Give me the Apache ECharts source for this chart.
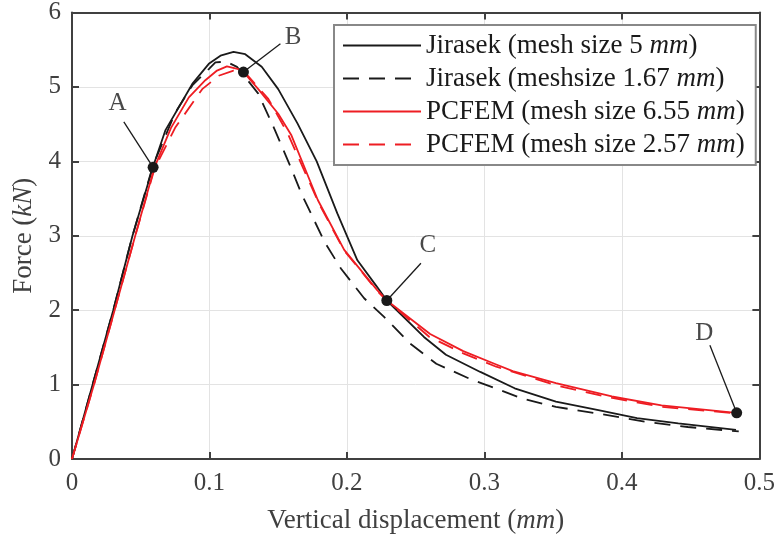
<!DOCTYPE html>
<html>
<head>
<meta charset="utf-8">
<script src="https://cdn.jsdelivr.net/npm/echarts@6/dist/echarts.min.js"></script>
<style>
html, body { margin: 0; padding: 0; background: #fff; }
#main { width: 778px; height: 542px; }
</style>
</head>
<body>
<div id="main"></div>
<script>
// 曲线数据: [竖向位移 mm, 力 kN]
const jirasek5 = [[0,0],[0.015,1.0],[0.030,2.0],[0.044,3.0],[0.059,3.93],[0.068,4.42],[0.0875,5.04],[0.0995,5.31],[0.108,5.42],[0.1175,5.47],[0.126,5.44],[0.138,5.27],[0.150,4.97],[0.164,4.51],[0.178,4.0],[0.193,3.30],[0.2076,2.67],[0.222,2.31],[0.229,2.13],[0.256,1.64],[0.272,1.40],[0.297,1.17],[0.322,0.95],[0.352,0.77],[0.382,0.66],[0.411,0.55],[0.441,0.48],[0.483,0.39]];
const jirasek167 = [[0,0],[0.015,1.0],[0.030,2.0],[0.044,3.0],[0.059,3.95],[0.075,4.65],[0.0875,5.02],[0.0995,5.24],[0.1043,5.33],[0.112,5.34],[0.12,5.27],[0.1355,4.91],[0.1476,4.42],[0.1596,3.90],[0.1668,3.57],[0.1836,2.92],[0.1956,2.56],[0.2125,2.16],[0.227,1.91],[0.246,1.55],[0.265,1.28],[0.289,1.08],[0.308,0.95],[0.328,0.81],[0.352,0.70],[0.383,0.61],[0.417,0.50],[0.448,0.43],[0.485,0.37]];
const pcfem655 = [[0,0],[0.016,1.0],[0.031,2.0],[0.046,3.0],[0.060,3.92],[0.072,4.45],[0.085,4.86],[0.097,5.09],[0.1055,5.22],[0.1127,5.275],[0.121,5.24],[0.1247,5.20],[0.1355,4.97],[0.150,4.64],[0.1596,4.35],[0.1788,3.48],[0.198,2.81],[0.222,2.27],[0.229,2.13],[0.2605,1.68],[0.2846,1.45],[0.3086,1.27],[0.3206,1.18],[0.352,1.02],[0.3927,0.84],[0.4288,0.72],[0.483,0.62]];
const pcfem257 = [[0,0],[0.016,1.0],[0.031,2.0],[0.046,3.0],[0.060,3.90],[0.075,4.45],[0.0947,4.97],[0.1067,5.15],[0.1175,5.22],[0.127,5.17],[0.1428,4.84],[0.157,4.37],[0.18,3.42],[0.198,2.80],[0.222,2.26],[0.229,2.13],[0.26,1.64],[0.2846,1.42],[0.3086,1.24],[0.352,0.99],[0.393,0.82],[0.429,0.70],[0.485,0.61]];

const seriesNames = ['Jirasek (mesh size 5 mm)', 'Jirasek (meshsize 1.67 mm)', 'PCFEM (mesh size 6.55 mm)', 'PCFEM (mesh size 2.57 mm)'];

// 标注点 A-D
const markNames = ['A', 'B', 'C', 'D'];
const markPoints = [[0.059,3.92],[0.1247,5.2],[0.229,2.13],[0.4835,0.62]];
const labelPoints = [[0.0332,4.78],[0.1608,5.66],[0.2588,2.87],[0.46,1.69]];
const leaderStarts = [[0.0377,4.53],[0.1516,5.58],[0.2538,2.63],[0.464,1.53]];

// 坐标轴刻度
const xRange = [0, 0.5, 0.1];
const yRange = [0, 6, 1];

const FONT = 'Liberation Serif';
const AXIS_COLOR = '#404040';
const BLACK = '#1a1a1a';
const RED = '#ee1d23';

const chart = echarts.init(document.getElementById('main'));

const baseAxis = {
    axisLine: { show: true, onZero: false, lineStyle: { color: AXIS_COLOR, width: 2 } },
    axisTick: { show: true, inside: true, length: 7, lineStyle: { color: AXIS_COLOR, width: 2 } },
    splitLine: { show: false }
};

const lineSeries = (name, data, color, dashed) => ({
    name: name,
    type: 'line',
    data: data,
    symbol: 'none',
    smooth: false,
    lineStyle: { color: color, width: 1.8, type: dashed ? [16, 10] : 'solid' },
    itemStyle: { color: color },
    z: 3
});

const series = [
    lineSeries(seriesNames[0], jirasek5, BLACK, false),
    lineSeries(seriesNames[1], jirasek167, BLACK, true),
    lineSeries(seriesNames[2], pcfem655, RED, false),
    lineSeries(seriesNames[3], pcfem257, RED, true)
];

// 引线
markNames.forEach((n, i) => {
    series.push({
        type: 'line',
        data: [leaderStarts[i], markPoints[i]],
        symbol: 'none',
        lineStyle: { color: BLACK, width: 1.3 },
        silent: true,
        z: 4
    });
});

// 标注圆点
series.push({
    type: 'scatter',
    data: markPoints,
    symbolSize: 11,
    itemStyle: { color: BLACK, opacity: 1 },
    z: 5
});

// 标注文字
series.push({
    type: 'scatter',
    data: labelPoints.map((p, i) => ({ value: p, name: markNames[i] })),
    symbolSize: 0,
    label: {
        show: true,
        position: 'inside',
        formatter: p => p.name,
        fontFamily: FONT,
        fontSize: 25,
        color: BLACK
    },
    z: 5
});

const italicMm = s => s.replace('mm)', '{i|mm})');

const option = {
    animation: false,
    backgroundColor: '#fff',
    grid: { left: 72, right: 12, top: 12, bottom: 83 },
    legend: {
        data: seriesNames,
        left: 334,
        top: 25,
        orient: 'vertical',
        itemWidth: 78,
        itemHeight: 14,
        itemGap: 6,
        padding: [7, 11, 7, 8],
        itemStyle: { opacity: 0 },
        backgroundColor: '#fff',
        borderColor: '#888',
        borderWidth: 2,
        borderRadius: 0,
        selectedMode: false,
        formatter: italicMm,
        textStyle: {
            fontFamily: FONT,
            fontSize: 27,
            color: BLACK,
            rich: { i: { fontFamily: FONT, fontSize: 27, fontStyle: 'italic', color: BLACK } }
        }
    },
    xAxis: [
        Object.assign({}, baseAxis, {
            type: 'value',
            min: xRange[0], max: xRange[1], interval: xRange[2],
            position: 'bottom',
            name: 'Vertical displacement ({i|mm})',
            nameLocation: 'middle',
            nameGap: 48,
            nameTextStyle: {
                fontFamily: FONT, fontSize: 27, color: AXIS_COLOR,
                rich: { i: { fontFamily: FONT, fontSize: 27, fontStyle: 'italic', color: AXIS_COLOR } }
            },
            axisLabel: { fontFamily: FONT, fontSize: 25, color: AXIS_COLOR, margin: 12 },
            splitLine: { show: true, lineStyle: { color: '#e3e3e3', width: 1 } }
        }),
        Object.assign({}, baseAxis, {
            type: 'value',
            min: xRange[0], max: xRange[1], interval: xRange[2],
            position: 'top',
            axisLabel: { show: false }
        })
    ],
    yAxis: [
        Object.assign({}, baseAxis, {
            type: 'value',
            min: yRange[0], max: yRange[1], interval: yRange[2],
            position: 'left',
            name: 'Force ({i|kN})',
            nameLocation: 'middle',
            nameGap: 34,
            nameTextStyle: {
                fontFamily: FONT, fontSize: 27, color: AXIS_COLOR,
                rich: { i: { fontFamily: FONT, fontSize: 27, fontStyle: 'italic', color: AXIS_COLOR } }
            },
            axisLabel: { fontFamily: FONT, fontSize: 25, color: AXIS_COLOR, margin: 11 },
            splitLine: { show: true, lineStyle: { color: '#e3e3e3', width: 1 } }
        }),
        Object.assign({}, baseAxis, {
            type: 'value',
            min: yRange[0], max: yRange[1], interval: yRange[2],
            position: 'right',
            axisLabel: { show: false }
        })
    ],
    series: series
};

chart.setOption(option);
</script>
</body>
</html>
